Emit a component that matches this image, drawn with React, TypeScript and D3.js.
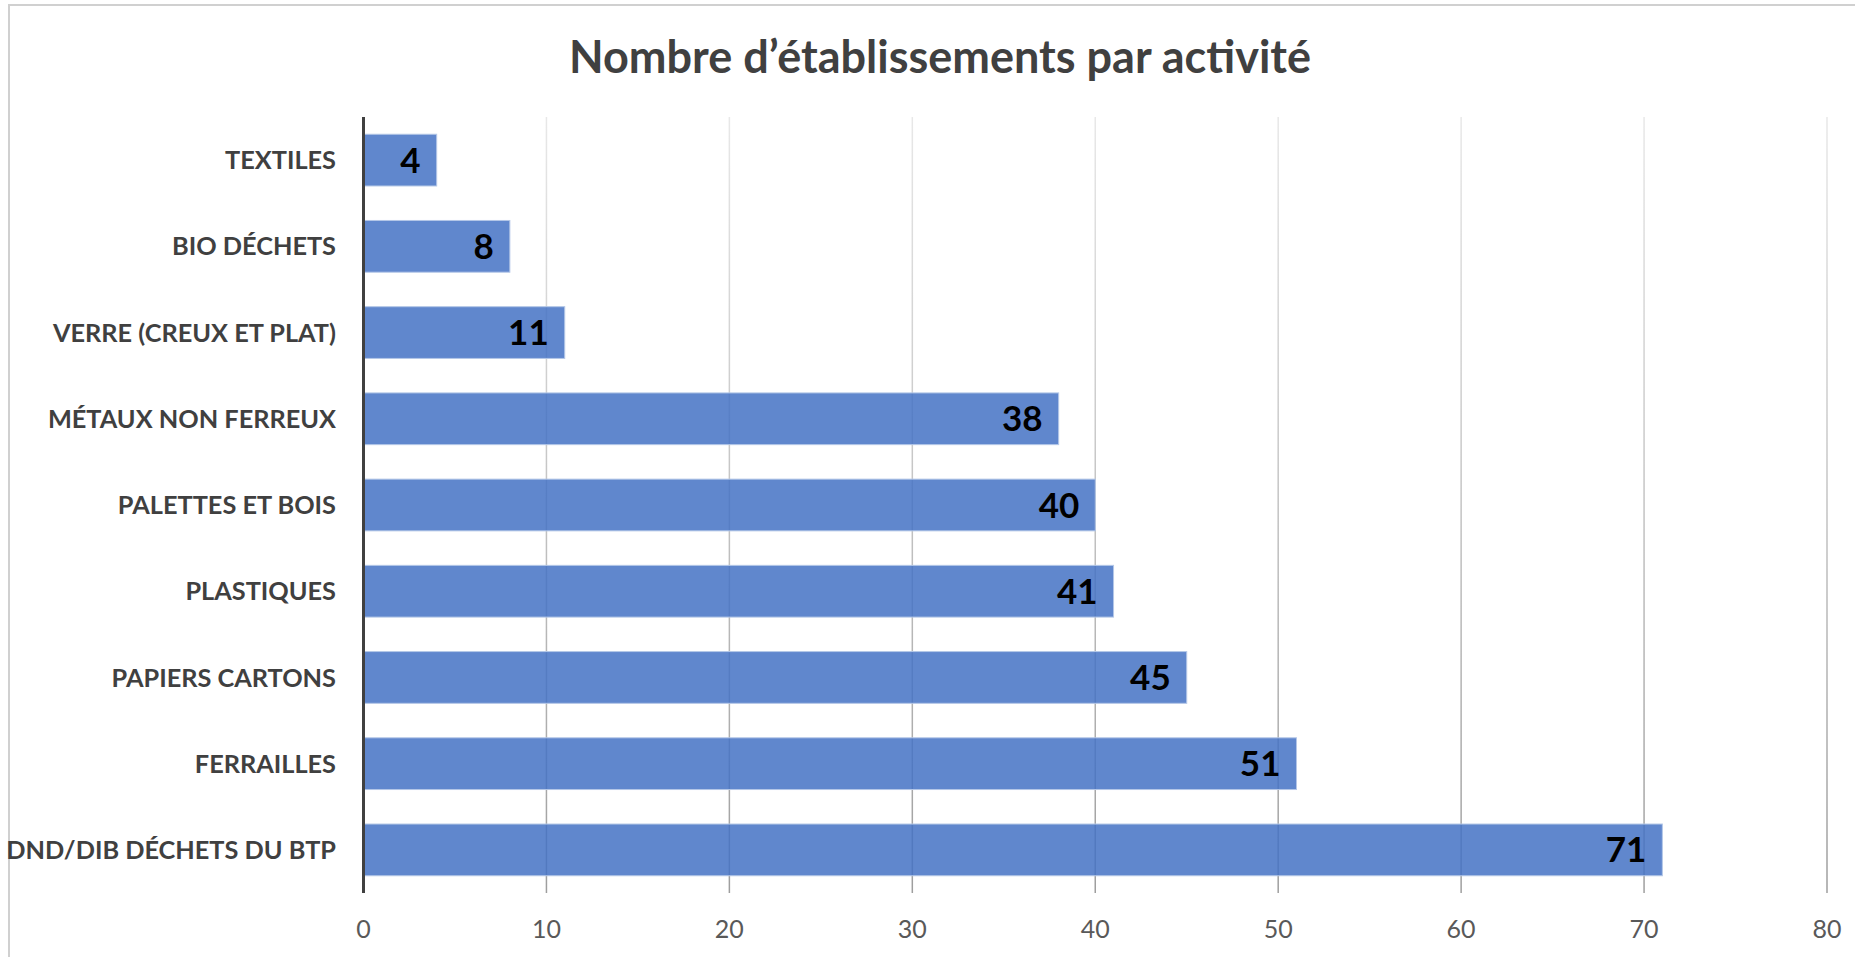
import React from "react";
import * as d3 from "d3";

const categories = [
  "TEXTILES",
  "BIO DÉCHETS",
  "VERRE (CREUX ET PLAT)",
  "MÉTAUX NON FERREUX",
  "PALETTES ET BOIS",
  "PLASTIQUES",
  "PAPIERS CARTONS",
  "FERRAILLES",
  "DND/DIB DÉCHETS DU BTP",
];
const values = [4, 8, 11, 38, 40, 41, 45, 51, 71];
const xTicks = [0, 10, 20, 30, 40, 50, 60, 70, 80];
const title = "Nombre d’établissements par activité";

const W = 1855;
const H = 957;
const FONT = "Lato, 'Open Sans', sans-serif";

export default function App() {
  const left = 363.5;
  const right = 1827;
  const top = 117;
  const bottom = 893;

  const x = d3.scaleLinear().domain([0, 80]).range([left, right]);
  const y = d3
    .scaleBand<string>()
    .domain(categories)
    .range([top, bottom])
    .paddingInner(0.4)
    .paddingOuter(0.2);

  return (
    <svg
      width={W}
      height={H}
      style={{ position: "absolute", left: 0, top: 0, display: "block", background: "#fff" }}
    >
      <defs>
        <linearGradient id="gridGrad" gradientUnits="userSpaceOnUse" x1="0" y1={top} x2="0" y2={bottom}>
          <stop offset="0" stopColor="#e8e8e8" />
          <stop offset="1" stopColor="#9e9e9e" />
        </linearGradient>
      </defs>
      <rect x={9} y={5} width={1870} height={1000} fill="#fff" stroke="#d0d0d0" strokeWidth={2} />
      <text
        x={940}
        y={73}
        textAnchor="middle"
        fontFamily={FONT}
        fontWeight={700}
        fontSize={45}
        fill="#404040"
      >
        {title}
      </text>
      {xTicks.slice(1).map((t) => (
        <line
          key={t}
          x1={x(t)}
          x2={x(t)}
          y1={top}
          y2={bottom}
          stroke="url(#gridGrad)"
          strokeWidth={1.5}
        />
      ))}
      {categories.map((c, i) => (
        <rect
          key={c}
          x={x(0)}
          y={y(c)}
          width={x(values[i]) - x(0)}
          height={y.bandwidth()}
          fill="#4472C4"
          fillOpacity={0.85}
          stroke="#b4c7e7"
          strokeWidth={1}
        />
      ))}
      <line x1={x(0)} x2={x(0)} y1={top} y2={bottom} stroke="#404040" strokeWidth={3} />
      {categories.map((c, i) => (
        <text
          key={"v" + c}
          x={x(values[i]) - 16}
          y={(y(c) as number) + y.bandwidth() / 2}
          dy="0.36em"
          textAnchor="end"
          fontFamily={FONT}
          fontWeight={700}
          fontSize={35}
          fill="#000"
        >
          {values[i]}
        </text>
      ))}
      {categories.map((c) => (
        <text
          key={"c" + c}
          x={336}
          y={(y(c) as number) + y.bandwidth() / 2}
          dy="0.36em"
          textAnchor="end"
          fontFamily={FONT}
          fontWeight={700}
          fontSize={25.3}
          fill="#404040"
        >
          {c}
        </text>
      ))}
      {xTicks.map((t) => (
        <text
          key={"t" + t}
          x={x(t)}
          y={929}
          dy="0.36em"
          textAnchor="middle"
          fontFamily={FONT}
          fontSize={25}
          fill="#595959"
        >
          {t}
        </text>
      ))}
    </svg>
  );
}
